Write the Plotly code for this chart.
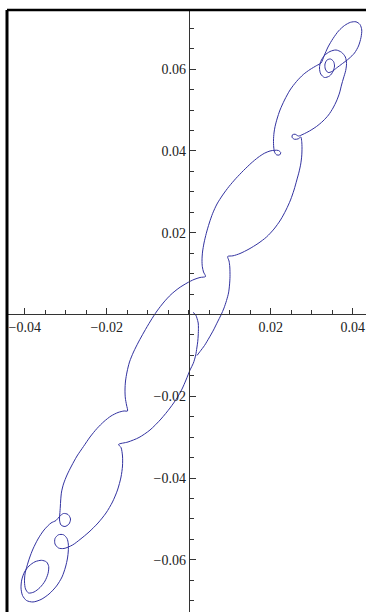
import plotly.graph_objects as go

# Curve points (data units)
x_vals = [
    0.00105, 0.00166, 0.00202, 0.00232, 0.00237, 0.00232, 0.00220, 0.00198, 0.00171, 0.00112,
    0.00032, -0.00066, -0.00163, -0.00285, -0.00456, -0.00676, -0.00944, -0.01212, -0.01480, -0.01712,
    -0.01651, -0.01615, -0.01615, -0.01651, -0.01737, -0.01859, -0.02017, -0.02212, -0.02432, -0.02651,
    -0.02834, -0.03041, -0.03176, -0.03261, -0.03261, -0.03176, -0.03054, -0.02968, -0.02937, -0.02937,
    -0.02956, -0.03005, -0.03090, -0.03224, -0.03407, -0.03602, -0.03798, -0.03956, -0.04054, -0.04090,
    -0.04073, -0.04005, -0.03895, -0.03749, -0.03590, -0.03468, -0.03415, -0.03432, -0.03505, -0.03627,
    -0.03773, -0.03907, -0.03980, -0.04005, -0.03993, -0.03944, -0.03883, -0.03798, -0.03676, -0.03529,
    -0.03359, -0.03237, -0.03151, -0.03054, -0.02944, -0.02883, -0.02920, -0.03017, -0.03115, -0.03151,
    -0.03144, -0.03132, -0.03122, -0.03102, -0.03054, -0.02968, -0.02859, -0.02724, -0.02566, -0.02407,
    -0.02237, -0.02066, -0.01895, -0.01724, -0.01578, -0.01493, -0.01517, -0.01546, -0.01554, -0.01541,
    -0.01505, -0.01444, -0.01346, -0.01224, -0.01090, -0.00932, -0.00773, -0.00602, -0.00432, -0.00237,
    -0.00041, 0.00129, 0.00276, 0.00410, 0.00361, 0.00332, 0.00324, 0.00337, 0.00373, 0.00429,
    0.00502, 0.00585, 0.00690, 0.00829, 0.00983, 0.01154, 0.01337, 0.01520, 0.01690, 0.01844,
    0.01983, 0.02093, 0.02190, 0.02244, 0.02215, 0.02141, 0.02093, 0.02073, 0.02068, 0.02080,
    0.02105, 0.02154, 0.02227, 0.02337, 0.02471, 0.02629, 0.02795, 0.02959, 0.03122, 0.03227,
    0.03300, 0.03398, 0.03520, 0.03654, 0.03800, 0.03946, 0.04080, 0.04178, 0.04220, 0.04202,
    0.04141, 0.04044, 0.03910, 0.03751, 0.03605, 0.03495, 0.03398, 0.03332, 0.03324, 0.03373,
    0.03459, 0.03532, 0.03556, 0.03520, 0.03434, 0.03312, 0.03220, 0.03190, 0.03220, 0.03312,
    0.03446, 0.03593, 0.03727, 0.03820, 0.03849, 0.03829, 0.03776, 0.03727, 0.03678, 0.03605,
    0.03520, 0.03410, 0.03276, 0.03117, 0.02946, 0.02788, 0.02678, 0.02593, 0.02532, 0.02520,
    0.02580, 0.02673, 0.02734, 0.02756, 0.02763, 0.02756, 0.02732, 0.02690, 0.02637, 0.02568,
    0.02483, 0.02373, 0.02239, 0.02080, 0.01898, 0.01690, 0.01471, 0.01251, 0.01080, 0.00951,
    0.00983, 0.01002, 0.01007, 0.00995, 0.00971, 0.00922, 0.00861, 0.00788, 0.00702, 0.00605,
    0.00495, 0.00385, 0.00276, 0.00202,
]
y_vals = [
    0.00049, 0.00000, -0.00093, -0.00208, -0.00337, -0.00501, -0.00665, -0.00819, -0.00990, -0.01193,
    -0.01357, -0.01601, -0.01822, -0.02042, -0.02286, -0.02555, -0.02824, -0.03007, -0.03117, -0.03178,
    -0.03252, -0.03460, -0.03704, -0.03973, -0.04291, -0.04584, -0.04853, -0.05098, -0.05318, -0.05501,
    -0.05636, -0.05721, -0.05709, -0.05611, -0.05477, -0.05386, -0.05386, -0.05477, -0.05611, -0.05782,
    -0.05954, -0.06174, -0.06418, -0.06638, -0.06834, -0.06968, -0.07029, -0.06993, -0.06870, -0.06687,
    -0.06491, -0.06296, -0.06149, -0.06046, -0.06010, -0.06051, -0.06161, -0.06333, -0.06516, -0.06675,
    -0.06785, -0.06809, -0.06711, -0.06540, -0.06345, -0.06149, -0.05954, -0.05733, -0.05489, -0.05269,
    -0.05098, -0.05037, -0.04939, -0.04866, -0.04890, -0.05000, -0.05122, -0.05183, -0.05147, -0.05024,
    -0.04878, -0.04707, -0.04535, -0.04340, -0.04144, -0.03924, -0.03704, -0.03460, -0.03227, -0.02995,
    -0.02787, -0.02616, -0.02482, -0.02396, -0.02359, -0.02359, -0.02213, -0.02042, -0.01846, -0.01626,
    -0.01406, -0.01161, -0.00917, -0.00672, -0.00428, -0.00159, 0.00086, 0.00306, 0.00489, 0.00648,
    0.00770, 0.00856, 0.00905, 0.00929, 0.01039, 0.01169, 0.01333, 0.01528, 0.01748, 0.01985,
    0.02237, 0.02474, 0.02702, 0.02922, 0.03130, 0.03330, 0.03521, 0.03697, 0.03839, 0.03941,
    0.03998, 0.04015, 0.04010, 0.03956, 0.03900, 0.03905, 0.03973, 0.04095, 0.04267, 0.04438,
    0.04592, 0.04780, 0.05000, 0.05244, 0.05489, 0.05697, 0.05868, 0.05990, 0.06088, 0.06149,
    0.06320, 0.06540, 0.06748, 0.06932, 0.07066, 0.07144, 0.07156, 0.07090, 0.06956, 0.06773,
    0.06565, 0.06394, 0.06259, 0.06137, 0.06027, 0.05941, 0.05917, 0.06002, 0.06125, 0.06222,
    0.06247, 0.06186, 0.06076, 0.05941, 0.05831, 0.05795, 0.05880, 0.06027, 0.06186, 0.06333,
    0.06430, 0.06467, 0.06411, 0.06296, 0.06137, 0.05966, 0.05782, 0.05611, 0.05416, 0.05220,
    0.05049, 0.04878, 0.04731, 0.04597, 0.04487, 0.04406, 0.04364, 0.04408, 0.04394, 0.04333,
    0.04284, 0.04296, 0.04340, 0.04230, 0.04071, 0.03875, 0.03680, 0.03484, 0.03289, 0.03044,
    0.02800, 0.02555, 0.02311, 0.02090, 0.01895, 0.01736, 0.01601, 0.01491, 0.01435, 0.01418,
    0.01308, 0.01161, 0.00924, 0.00721, 0.00526, 0.00342, 0.00159, -0.00012, -0.00183, -0.00379,
    -0.00575, -0.00758, -0.00905, -0.01002,
]

x_tick_vals = [-0.04, -0.02, 0.02, 0.04]
x_tick_text = ["\u22120.04", "\u22120.02", "0.02", "0.04"]
y_tick_vals = [-0.06, -0.04, -0.02, 0.02, 0.04, 0.06]
y_tick_text = ["\u22120.06", "\u22120.04", "\u22120.02", "0.02", "0.04", "0.06"]

x_range = [-0.04432, 0.04324]
y_range = [-0.07274, 0.07445]

fig = go.Figure()
fig.add_trace(go.Scatter(
    x=x_vals, y=y_vals, mode="lines",
    line=dict(color="rgb(50,50,160)", width=1, shape="spline", smoothing=0.8),
    hoverinfo="skip", showlegend=False,
))

font = dict(family="Liberation Serif, Times New Roman, serif", size=14, color="#222222")

x_pos = (0 - y_range[0]) / (y_range[1] - y_range[0])
y_pos = (0 - x_range[0]) / (x_range[1] - x_range[0])

fig.update_layout(
    width=366, height=612,
    margin=dict(l=7, r=0, t=10, b=0),
    paper_bgcolor="white", plot_bgcolor="white",
    showlegend=False,
    xaxis=dict(
        range=x_range, anchor="free", position=x_pos,
        showgrid=False, zeroline=False,
        showline=True, linecolor="#333333", linewidth=1,
        tickmode="array", tickvals=x_tick_vals, ticktext=x_tick_text,
        ticks="inside", ticklen=6, tickwidth=1, tickcolor="#333333",
        tickfont=font,
        minor=dict(ticks="inside", dtick=0.005, tick0=0, ticklen=4,
                   tickwidth=1, tickcolor="#333333", showgrid=False),
    ),
    yaxis=dict(
        range=y_range, anchor="free", position=y_pos,
        showgrid=False, zeroline=False,
        showline=True, linecolor="#333333", linewidth=1,
        tickmode="array", tickvals=y_tick_vals, ticktext=y_tick_text,
        ticks="inside", ticklen=6, tickwidth=1, tickcolor="#333333",
        tickfont=font,
        minor=dict(ticks="inside", dtick=0.005, tick0=0, ticklen=4,
                   tickwidth=1, tickcolor="#333333", showgrid=False),
    ),
    shapes=[
        dict(type="line", xref="paper", yref="paper", x0=0, x1=0, y0=0, y1=1,
             line=dict(color="black", width=3)),
        dict(type="line", xref="paper", yref="paper", x0=0, x1=1, y0=1, y1=1,
             line=dict(color="black", width=2.5)),
    ],
)

fig.write_html(
    "out.html",
    config={"displayModeBar": False, "staticPlot": True},
    post_script="document.body.style.margin='0';document.body.style.overflow='hidden';",
)
